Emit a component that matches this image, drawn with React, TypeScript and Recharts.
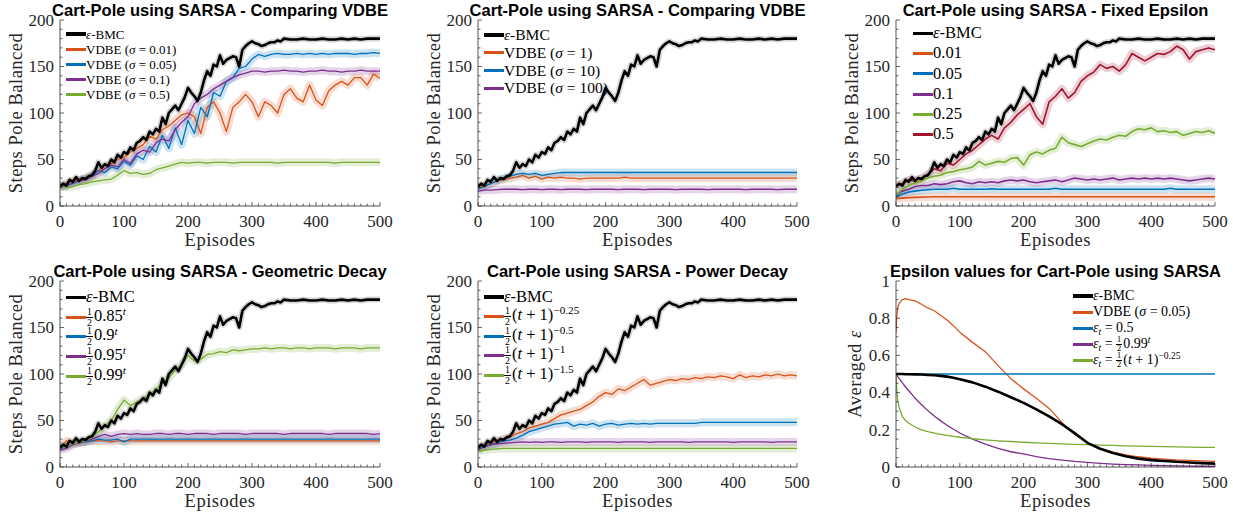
import React from 'react'
import { LineChart, Line, XAxis, YAxis } from 'recharts'

const SERIF = '"Liberation Serif", "Times New Roman", serif'
const SANS = '"Liberation Sans", Arial, sans-serif'
const AXIS = '#262626'

const BLACK = '#000000'
const ORANGE = '#D95319'
const BLUE = '#0072BD'
const PURPLE = '#7E2F8E'
const GREEN = '#77AC30'
const RED = '#A2142F'

// episode grid (every 10 episodes) – also used as x ticks
const EP = [0, 10, 20, 30, 40, 50, 60, 70, 80, 90, 100, 110, 120, 130, 140, 150, 160, 170, 180, 190, 200, 210, 220, 230, 240, 250, 260, 270, 280, 290, 300, 310, 320, 330, 340, 350, 360, 370, 380, 390, 400, 410, 420, 430, 440, 450, 460, 470, 480, 490, 500]
const X_LABELS = [0, 100, 200, 300, 400, 500]
const Y_TICKS = [0, 10, 20, 30, 40, 50, 60, 70, 80, 90, 100, 110, 120, 130, 140, 150, 160, 170, 180, 190, 200]
const Y_LABELS = [0, 50, 100, 150, 200]
const EPS_TICKS = [0, 0.05, 0.1, 0.15, 0.2, 0.25, 0.3, 0.35, 0.4, 0.45, 0.5, 0.55, 0.6, 0.65, 0.7, 0.75, 0.8, 0.85, 0.9, 0.95, 1]
const EPS_LABELS = [0, 0.2, 0.4, 0.6, 0.8, 1]

// eps-BMC steps (shared by the five step panels)
const BMC_EP = [0, 5, 10, 15, 20, 25, 30, 35, 40, 45, 50, 55, 60, 65, 70, 75, 80, 85, 90, 95, 100, 105, 110, 115, 120, 125, 130, 135, 140, 145, 150, 155, 160, 165, 170, 175, 180, 185, 190, 195, 200, 205, 210, 215, 220, 225, 230, 235, 240, 245, 250, 255, 260, 265, 270, 275, 280, 285, 290, 295, 300, 305, 310, 315, 320, 325, 330, 335, 340, 345, 350, 360, 370, 380, 390, 400, 410, 420, 430, 440, 450, 460, 470, 480, 490, 500]
const BMC = [21, 24, 22, 28, 26, 31, 27, 30, 29, 32, 33, 38, 47, 41, 45, 43, 50, 47, 55, 52, 58, 56, 63, 60, 68, 70, 74, 71, 80, 77, 83, 80, 95, 88, 100, 104, 108, 103, 110, 117, 127, 122, 118, 113, 122, 135, 145, 140, 152, 150, 162, 153, 157, 159, 161, 160, 150, 168, 172, 175, 177, 175, 174, 172, 173, 175, 176, 176, 178, 177, 180, 179, 179, 180, 179, 179, 180, 179, 179, 180, 179, 180, 179, 180, 180, 180]

// panel 1: VDBE small sigma
const VDBE_001 = [22, 24, 27, 28, 30, 34, 38, 40, 45, 50, 52, 58, 62, 66, 75, 72, 82, 86, 92, 98, 100, 96, 78, 106, 112, 100, 80, 106, 112, 120, 112, 96, 112, 108, 100, 120, 126, 116, 112, 130, 114, 108, 124, 130, 134, 130, 138, 138, 130, 142, 137]
const VDBE_005 = [21, 22, 24, 27, 30, 32, 38, 36, 42, 40, 48, 44, 54, 50, 64, 58, 76, 62, 84, 66, 92, 78, 106, 96, 122, 118, 134, 138, 148, 150, 158, 163, 161, 163, 164, 163, 163, 164, 163, 164, 163, 164, 163, 164, 164, 164, 163, 164, 164, 165, 164]
const VDBE_01 = [20, 22, 25, 27, 28, 32, 35, 40, 44, 42, 50, 46, 56, 60, 58, 68, 72, 70, 82, 90, 96, 110, 116, 120, 126, 130, 134, 138, 141, 143, 145, 145, 144, 145, 145, 146, 145, 145, 144, 145, 145, 146, 145, 145, 144, 145, 145, 146, 145, 145, 145]
const VDBE_05 = [21, 20, 21, 23, 24, 26, 27, 28, 29, 33, 38, 35, 36, 34, 35, 39, 41, 43, 45, 47, 46, 47, 47, 46, 47, 47, 47, 46, 47, 47, 47, 47, 47, 47, 46, 47, 47, 47, 47, 47, 47, 47, 47, 46, 47, 47, 47, 47, 47, 47, 47]

// panel 2: VDBE large sigma
const VDBE_1 = [20, 22, 24, 27, 28, 30, 31, 33, 30, 32, 29, 31, 30, 31, 30, 30, 29, 30, 30, 30, 30, 30, 30, 31, 30, 30, 30, 30, 30, 30, 30, 30, 30, 30, 30, 30, 30, 30, 30, 30, 30, 30, 30, 30, 30, 30, 30, 30, 30, 30, 30]
const VDBE_10 = [18, 21, 24, 27, 30, 32, 34, 35, 34, 35, 33, 34, 35, 36, 36, 36, 36, 36, 36, 36, 36, 36, 36, 36, 36, 36, 36, 36, 36, 36, 36, 36, 36, 36, 36, 36, 36, 36, 36, 36, 36, 36, 36, 36, 36, 36, 36, 36, 36, 36, 36]
const VDBE_100 = [16, 17, 17, 17.5, 18, 18, 18, 17.5, 18, 18, 17.5, 18, 18, 17.5, 18, 18, 18, 17.5, 18, 18, 18, 18, 17.5, 18, 18, 18, 17.5, 18, 18, 18, 18, 17.5, 18, 18, 18, 18, 17.5, 18, 18, 18, 18, 18, 17.5, 18, 18, 18, 18, 17.5, 18, 18, 18]

// panel 3: fixed epsilon
const FIX_001 = [8, 8.5, 9, 9.3, 9.5, 9.7, 10, 10, 10, 10, 10, 10, 10, 10, 10, 10, 10, 10, 10, 10, 10, 10, 10, 10, 10, 10, 10, 10, 10, 10, 10, 10, 10, 10, 10, 10, 10, 10, 10, 10, 10, 10, 10, 10, 10, 10, 10, 10, 10, 10, 10]
const FIX_005 = [10, 13, 15, 16, 17, 17.5, 18, 18, 18, 19, 18, 18, 18, 18, 18, 18.5, 18, 18, 18, 18, 18, 18, 18, 18, 18, 19, 18, 18, 18, 18, 18, 18, 18, 18, 18, 18, 18, 18, 18, 18, 18, 18, 18, 19, 18, 18, 18, 18, 18, 18, 18]
const FIX_01 = [12, 16, 18, 21, 22, 22, 24, 23, 24, 26, 27, 25, 24, 26, 25, 26, 25, 27, 28, 27, 28, 26, 25, 26, 27, 28, 26, 28, 30, 29, 28, 29, 28, 29, 30, 28, 29, 30, 29, 30, 29, 30, 29, 30, 29, 28, 27, 28, 29, 30, 29]
const FIX_025 = [12, 18, 22, 25, 27, 30, 32, 33, 36, 37, 39, 40, 42, 48, 44, 46, 48, 47, 51, 52, 44, 55, 58, 56, 60, 62, 74, 68, 66, 64, 67, 70, 72, 71, 74, 76, 75, 80, 83, 82, 84, 80, 81, 79, 80, 76, 78, 80, 79, 81, 78]
const FIX_05 = [22, 24, 28, 27, 30, 34, 40, 38, 46, 44, 50, 56, 60, 66, 72, 76, 72, 84, 90, 98, 104, 110, 96, 88, 112, 118, 126, 116, 122, 134, 140, 144, 152, 148, 150, 145, 152, 164, 160, 156, 160, 164, 163, 166, 172, 168, 158, 166, 168, 170, 168]

// panel 4: geometric decay
const GEO_085 = [20, 28, 26, 27, 27, 28, 28, 28, 27, 28, 28, 28, 28, 28, 28, 28, 28, 28, 28, 28, 28, 28, 28, 28, 28, 28, 28, 28, 28, 28, 28, 28, 28, 28, 28, 28, 28, 28, 28, 28, 28, 28, 28, 28, 28, 28, 28, 28, 28, 28, 28]
const GEO_09 = [20, 23, 25, 26, 27, 28, 30, 29, 29, 30, 27, 30, 30, 30, 30, 30, 30, 30, 30, 30, 30, 30, 30, 30, 30, 30, 30, 30, 30, 30, 30, 30, 30, 30, 30, 30, 30, 30, 30, 30, 30, 30, 30, 30, 30, 30, 30, 30, 30, 30, 30]
const GEO_095 = [18, 20, 24, 26, 28, 30, 33, 35, 33, 35, 36, 35, 36, 35, 35, 36, 36, 35, 36, 36, 35, 36, 36, 36, 35, 36, 36, 36, 36, 35, 36, 36, 36, 36, 36, 35, 36, 36, 36, 36, 36, 36, 35, 36, 36, 36, 36, 36, 36, 35, 36]
const GEO_099 = [22, 22, 25, 27, 28, 32, 38, 44, 50, 62, 72, 66, 70, 74, 78, 84, 90, 96, 104, 110, 120, 114, 116, 121, 122, 124, 123, 126, 125, 126, 127, 127, 128, 127, 128, 128, 127, 128, 128, 127, 128, 128, 128, 127, 128, 128, 128, 127, 128, 128, 128]

// panel 5: power decay
const POW_025 = [20, 23, 26, 28, 30, 32, 36, 38, 42, 44, 46, 48, 52, 56, 58, 60, 62, 66, 70, 76, 80, 78, 84, 82, 86, 90, 94, 88, 90, 92, 94, 93, 95, 94, 96, 95, 97, 96, 98, 97, 95, 99, 96, 98, 97, 99, 98, 100, 98, 99, 98]
const POW_05 = [20, 22, 24, 26, 28, 29, 31, 34, 38, 40, 42, 44, 46, 47, 48, 44, 46, 45, 47, 44, 46, 47, 45, 46, 47, 46, 47, 46, 47, 47, 47, 47, 47, 47, 47, 48, 48, 48, 48, 48, 48, 48, 48, 48, 48, 48, 48, 48, 48, 48, 48]
const POW_1 = [18, 22, 24, 25, 25.5, 26, 26.5, 27, 26.5, 27, 26.5, 27, 27, 26.5, 27, 27, 27, 26.5, 27, 27, 27, 27, 26.5, 27, 27, 27, 27, 26.5, 27, 27, 27, 27, 27, 26.5, 27, 27, 27, 27, 27, 27, 26.5, 27, 27, 27, 27, 27, 26.5, 27, 27, 27, 27]
const POW_15 = [17, 18, 19, 19.5, 20, 20, 20, 20, 20, 20, 20, 20, 20, 20, 20, 20, 20, 20, 20, 20, 20, 20, 20, 20, 20, 20, 20, 20, 20, 20, 20, 20, 20, 20, 20, 20, 20, 20, 20, 20, 20, 20, 20, 20, 20, 20, 20, 20, 20, 20, 20]

// panel 6: averaged epsilon
const EPS_EP = [0, 1, 3, 5, 10, 15, 20, 30, 40, 50, 60, 70, 80, 90, 100, 120, 140, 160, 180, 200, 220, 240, 260, 280, 300, 320, 340, 360, 380, 400, 420, 440, 460, 480, 500]
const EPS_BMC = [0.5, 0.5, 0.5, 0.5, 0.5, 0.499, 0.499, 0.498, 0.497, 0.495, 0.493, 0.49, 0.486, 0.48, 0.472, 0.455, 0.432, 0.405, 0.375, 0.345, 0.31, 0.272, 0.23, 0.182, 0.13, 0.098, 0.075, 0.058, 0.045, 0.037, 0.032, 0.028, 0.024, 0.021, 0.018]
const EPS_VDBE = [0.72, 0.8, 0.86, 0.88, 0.9, 0.905, 0.9, 0.893, 0.875, 0.855, 0.84, 0.815, 0.79, 0.76, 0.725, 0.67, 0.62, 0.545, 0.475, 0.42, 0.37, 0.315, 0.24, 0.175, 0.13, 0.1, 0.08, 0.065, 0.055, 0.047, 0.042, 0.038, 0.036, 0.033, 0.03]
const EPS_GEO = [0.5, 0.495, 0.485, 0.476, 0.452, 0.43, 0.41, 0.37, 0.335, 0.303, 0.274, 0.248, 0.224, 0.203, 0.183, 0.15, 0.123, 0.1, 0.082, 0.07, 0.056, 0.045, 0.037, 0.03, 0.025, 0.02, 0.016, 0.013, 0.011, 0.009, 0.007, 0.006, 0.005, 0.004, 0.003]
const EPS_POW = [0.5, 0.42, 0.35, 0.32, 0.27, 0.25, 0.235, 0.215, 0.2, 0.19, 0.182, 0.175, 0.17, 0.165, 0.16, 0.152, 0.146, 0.141, 0.137, 0.133, 0.13, 0.127, 0.124, 0.122, 0.12, 0.118, 0.116, 0.114, 0.112, 0.111, 0.11, 0.108, 0.107, 0.106, 0.105]
const FIXED_EP = [0, 500]
const EPS_FIXED = [0.5, 0.5]

const pts = (ep: number[], val: number[]) => ep.map((x, i) => ({ x, y: val[i] }))

type Series = { ep: number[]; val: number[]; color: string; w: number; band?: boolean }

function XTick(p: any) {
  const { x, y, payload } = p
  const v = payload.value as number
  const major = X_LABELS.indexOf(v) >= 0
  return (
    <g>
      <line x1={x} x2={x} y1={y} y2={y - (major ? 4 : 2.5)} stroke={AXIS} strokeWidth={0.7} />
      {major && (
        <text x={x} y={y + 20.5} textAnchor="middle" fontFamily={SERIF} fontSize={17} fill={AXIS}>
          {v}
        </text>
      )}
    </g>
  )
}

const yTick = (labels: number[]) => (p: any) => {
  const { x, y, payload } = p
  const v = payload.value as number
  const major = labels.indexOf(v) >= 0
  return (
    <g>
      <line x1={x} x2={x + (major ? 4 : 2.5)} y1={y} y2={y} stroke={AXIS} strokeWidth={0.7} />
      {major && (
        <text x={x - 6} y={y} dy="0.34em" textAnchor="end" fontFamily={SERIF} fontSize={17} fill={AXIS}>
          {v}
        </text>
      )}
    </g>
  )
}

type LegendItem = { color: string; label: React.ReactNode; thick?: boolean }

function Legend({ left, top, gap, size, items }: { left: number; top: number; gap: number; size: number; items: LegendItem[] }) {
  return (
    <div style={{ position: 'absolute', left, top, fontFamily: SERIF, fontSize: size, color: '#000' }}>
      {items.map((it, i) => (
        <div
          key={i}
          style={{ position: 'absolute', left: 0, top: i * gap, height: 0, display: 'flex', alignItems: 'center', whiteSpace: 'nowrap' }}
        >
          <span style={{ display: 'inline-block', width: 20, height: it.thick ? 3.5 : 3, background: it.color }} />
          <span style={{ lineHeight: 1 }}>{it.label}</span>
        </div>
      ))}
    </div>
  )
}

const I = ({ children }: { children: React.ReactNode }) => <span style={{ fontStyle: 'italic' }}>{children}</span>
const Half = () => (
  <span
    style={{ display: 'inline-flex', flexDirection: 'column', alignItems: 'center', fontSize: '0.6em', lineHeight: 1, verticalAlign: 'middle', marginRight: 1 }}
  >
    <span style={{ borderBottom: '0.8px solid currentColor', padding: '0 1px' }}>1</span>
    <span>2</span>
  </span>
)
const Sup = ({ children }: { children: React.ReactNode }) => (
  <span style={{ fontSize: '0.68em', position: 'relative', top: '-0.55em' }}>{children}</span>
)
const Sub = ({ children }: { children: React.ReactNode }) => (
  <span style={{ fontSize: '0.68em', position: 'relative', top: '0.3em' }}>{children}</span>
)
const BMC_LABEL = (
  <>
    <I>ε</I>-BMC
  </>
)
const Sig = ({ v }: { v: string }) => (
  <>
    VDBE (<I>σ</I> = {v})
  </>
)
const Geo = ({ v }: { v: string }) => (
  <>
    <Half />
    {v}
    <Sup>
      <I>t</I>
    </Sup>
  </>
)
const Pow = ({ v }: { v: string }) => (
  <>
    <Half />(<I>t</I> + 1)
    <Sup>{v}</Sup>
  </>
)
const EpsT = () => (
  <>
    <I>ε</I>
    <Sub>
      <I>t</I>
    </Sub>{' '}
    ={' '}
  </>
)

function Panel(props: {
  px: number
  py: number
  pw: number
  title: string
  yLabel: React.ReactNode
  yLabelOff: number
  yMax: number
  yTicks: number[]
  yLabels: number[]
  series: Series[]
}) {
  const { px, py, pw, title, yLabel, yLabelOff, yMax, yTicks, yLabels, series } = props
  const H = 186
  return (
    <>
      <div style={{ position: 'absolute', left: px - 60, top: py - 20 }}>
        <LineChart width={pw + 85} height={H + 70} margin={{ top: 20, right: 25, bottom: 0, left: 0 }}>
          <XAxis
            type="number"
            dataKey="x"
            domain={[0, 500]}
            ticks={EP}
            interval={0}
            tick={XTick}
            tickLine={false}
            tickSize={0}
            tickMargin={0}
            height={50}
            axisLine={{ stroke: AXIS, strokeWidth: 0.8 }}
            allowDataOverflow
          />
          <YAxis
            type="number"
            domain={[0, yMax]}
            ticks={yTicks}
            interval={0}
            tick={yTick(yLabels)}
            tickLine={false}
            tickSize={0}
            tickMargin={0}
            width={60}
            axisLine={{ stroke: AXIS, strokeWidth: 0.8 }}
            allowDataOverflow
          />
          {series
            .filter((s) => s.band)
            .map((s, i) => (
              <Line
                key={'b' + i}
                data={pts(s.ep, s.val)}
                dataKey="y"
                type="linear"
                stroke={s.color === BLACK ? '#8a8a8a' : s.color}
                strokeOpacity={s.color === BLACK ? 0.35 : 0.2}
                strokeWidth={s.color === BLACK ? 6 : 8}
                strokeLinejoin="round"
                dot={false}
                activeDot={false}
                isAnimationActive={false}
              />
            ))}
          {series.map((s, i) => (
            <Line
              key={'l' + i}
              data={pts(s.ep, s.val)}
              dataKey="y"
              type="linear"
              stroke={s.color}
              strokeWidth={s.w}
              strokeLinejoin="round"
              dot={false}
              activeDot={false}
              isAnimationActive={false}
            />
          ))}
        </LineChart>
      </div>
      <svg style={{ position: 'absolute', left: 0, top: 0, overflow: 'visible' }} width={1} height={1}>
        <text x={px + pw / 2} y={py - 4.5} textAnchor="middle" fontFamily={SANS} fontWeight="bold" fontSize={16.5} fill="#000">
          {title}
        </text>
        <text
          x={px + pw / 2}
          y={py + H + 40}
          textAnchor="middle"
          fontFamily={SERIF}
          fontSize={18.5}
          letterSpacing={0.5}
          fill={AXIS}
        >
          Episodes
        </text>
        <text
          transform={`translate(${px - yLabelOff}, ${py + H / 2}) rotate(-90)`}
          textAnchor="middle"
          fontFamily={SERIF}
          fontSize={18.5}
          letterSpacing={0.5}
          fill={AXIS}
        >
          {yLabel}
        </text>
      </svg>
    </>
  )
}

const bmc: Series = { ep: BMC_EP, val: BMC, color: BLACK, w: 2.6, band: true }
const s = (val: number[], color: string, w = 1.3): Series => ({ ep: EP, val, color, w, band: true })

export default function App() {
  const steps = 'Steps Pole Balanced'
  return (
    <div style={{ position: 'absolute', left: 0, top: 0, width: 1233, height: 516, background: '#fff', overflow: 'hidden' }}>
      <Panel
        px={60}
        py={20}
        pw={320}
        title="Cart-Pole using SARSA - Comparing VDBE"
        yLabel={steps}
        yLabelOff={38}
        yMax={200}
        yTicks={Y_TICKS}
        yLabels={Y_LABELS}
        series={[s(VDBE_001, ORANGE), s(VDBE_005, BLUE), s(VDBE_01, PURPLE), s(VDBE_05, GREEN), bmc]}
      />
      <Panel
        px={478}
        py={20}
        pw={319}
        title="Cart-Pole using SARSA - Comparing VDBE"
        yLabel={steps}
        yLabelOff={38}
        yMax={200}
        yTicks={Y_TICKS}
        yLabels={Y_LABELS}
        series={[s(VDBE_1, ORANGE), s(VDBE_10, BLUE), s(VDBE_100, PURPLE), bmc]}
      />
      <Panel
        px={896}
        py={20}
        pw={319}
        title="Cart-Pole using SARSA - Fixed Epsilon"
        yLabel={steps}
        yLabelOff={38}
        yMax={200}
        yTicks={Y_TICKS}
        yLabels={Y_LABELS}
        series={[
          s(FIX_001, ORANGE, 1.6),
          s(FIX_005, BLUE, 1.6),
          s(FIX_01, PURPLE, 1.6),
          s(FIX_025, GREEN, 1.6),
          s(FIX_05, RED, 1.6),
          bmc,
        ]}
      />
      <Panel
        px={60}
        py={281}
        pw={320}
        title="Cart-Pole using SARSA - Geometric Decay"
        yLabel={steps}
        yLabelOff={38}
        yMax={200}
        yTicks={Y_TICKS}
        yLabels={Y_LABELS}
        series={[s(GEO_085, ORANGE), s(GEO_09, BLUE), s(GEO_095, PURPLE), s(GEO_099, GREEN), bmc]}
      />
      <Panel
        px={478}
        py={281}
        pw={319}
        title="Cart-Pole using SARSA - Power Decay"
        yLabel={steps}
        yLabelOff={38}
        yMax={200}
        yTicks={Y_TICKS}
        yLabels={Y_LABELS}
        series={[s(POW_025, ORANGE), s(POW_05, BLUE), s(POW_1, PURPLE), s(POW_15, GREEN), bmc]}
      />
      <Panel
        px={896}
        py={281}
        pw={319}
        title="Epsilon values for Cart-Pole using SARSA"
        yLabel={
          <>
            Averaged <tspan fontStyle="italic">ε</tspan>
          </>
        }
        yLabelOff={35}
        yMax={1}
        yTicks={EPS_TICKS}
        yLabels={EPS_LABELS}
        series={[
          { ep: EPS_EP, val: EPS_VDBE, color: ORANGE, w: 1.3 },
          { ep: FIXED_EP, val: EPS_FIXED, color: BLUE, w: 1.3 },
          { ep: EPS_EP, val: EPS_GEO, color: PURPLE, w: 1.3 },
          { ep: EPS_EP, val: EPS_POW, color: GREEN, w: 1.3 },
          { ep: EPS_EP, val: EPS_BMC, color: BLACK, w: 2.6 },
        ]}
      />

      <Legend
        left={66}
        top={34}
        gap={15.2}
        size={13}
        items={[
          { color: BLACK, label: BMC_LABEL, thick: true },
          { color: ORANGE, label: <Sig v="0.01" /> },
          { color: BLUE, label: <Sig v="0.05" /> },
          { color: PURPLE, label: <Sig v="0.1" /> },
          { color: GREEN, label: <Sig v="0.5" /> },
        ]}
      />
      <Legend
        left={484}
        top={35}
        gap={17.7}
        size={15.5}
        items={[
          { color: BLACK, label: BMC_LABEL, thick: true },
          { color: ORANGE, label: <Sig v="1" /> },
          { color: BLUE, label: <Sig v="10" /> },
          { color: PURPLE, label: <Sig v="100" /> },
        ]}
      />
      <Legend
        left={913}
        top={33.5}
        gap={20.2}
        size={16.5}
        items={[
          { color: BLACK, label: BMC_LABEL, thick: true },
          { color: ORANGE, label: '0.01' },
          { color: BLUE, label: '0.05' },
          { color: PURPLE, label: '0.1' },
          { color: GREEN, label: '0.25' },
          { color: RED, label: '0.5' },
        ]}
      />
      <Legend
        left={66}
        top={297.5}
        gap={19.7}
        size={16.5}
        items={[
          { color: BLACK, label: BMC_LABEL, thick: true },
          { color: ORANGE, label: <Geo v="0.85" /> },
          { color: BLUE, label: <Geo v="0.9" /> },
          { color: PURPLE, label: <Geo v="0.95" /> },
          { color: GREEN, label: <Geo v="0.99" /> },
        ]}
      />
      <Legend
        left={484}
        top={297}
        gap={19.6}
        size={16.5}
        items={[
          { color: BLACK, label: BMC_LABEL, thick: true },
          { color: ORANGE, label: <Pow v="−0.25" /> },
          { color: BLUE, label: <Pow v="−0.5" /> },
          { color: PURPLE, label: <Pow v="−1" /> },
          { color: GREEN, label: <Pow v="−1.5" /> },
        ]}
      />
      <Legend
        left={1073}
        top={296}
        gap={16.2}
        size={14}
        items={[
          { color: BLACK, label: BMC_LABEL, thick: true },
          { color: ORANGE, label: <Sig v="0.05" /> },
          {
            color: BLUE,
            label: (
              <>
                <EpsT />
                0.5
              </>
            ),
          },
          {
            color: PURPLE,
            label: (
              <>
                <EpsT />
                <Geo v="0.99" />
              </>
            ),
          },
          {
            color: GREEN,
            label: (
              <>
                <EpsT />
                <Pow v="−0.25" />
              </>
            ),
          },
        ]}
      />
    </div>
  )
}
